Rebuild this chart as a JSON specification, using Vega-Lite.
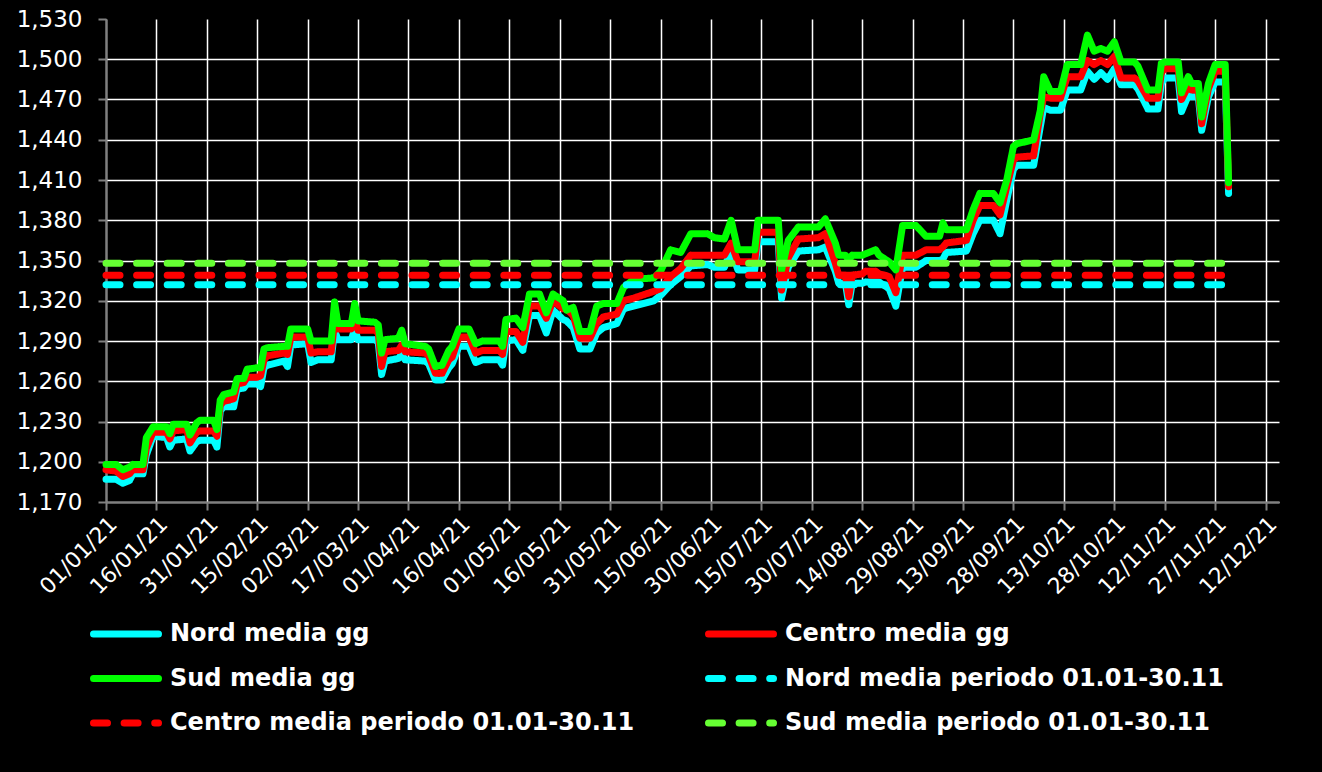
{
  "$schema": "https://vega.github.io/schema/vega-lite/v6.json",
  "width": 1173,
  "height": 483,
  "autosize": {"type": "none"},
  "padding": {"left": 106, "top": 19, "right": 43, "bottom": 270},
  "background": "#000000",
  "config": {
    "view": {"stroke": null},
    "font": "DejaVu Sans",
    "axis": {
      "domainColor": "#808080",
      "domainWidth": 2,
      "tickColor": "#808080",
      "tickWidth": 2,
      "tickSize": 8,
      "labelColor": "#ffffff",
      "labelFont": "DejaVu Sans",
      "gridColor": "#ffffff",
      "gridWidth": 1.5,
      "title": null
    }
  },
  "datasets": {
    "daily": [
      {"d":"2021-01-01","n":1187,"c":1194,"s":1198},
      {"d":"2021-01-04","n":1187,"c":1193,"s":1198},
      {"d":"2021-01-06","n":1184,"c":1189,"s":1194},
      {"d":"2021-01-08","n":1186,"c":1191,"s":1196},
      {"d":"2021-01-09","n":1191,"c":1194,"s":1198},
      {"d":"2021-01-12","n":1191,"c":1194,"s":1198},
      {"d":"2021-01-13","n":1205,"c":1210,"s":1218},
      {"d":"2021-01-15","n":1219,"c":1222,"s":1226},
      {"d":"2021-01-19","n":1218,"c":1222,"s":1226},
      {"d":"2021-01-20","n":1211,"c":1217,"s":1221},
      {"d":"2021-01-21","n":1216,"c":1223,"s":1228},
      {"d":"2021-01-25","n":1217,"c":1224,"s":1228},
      {"d":"2021-01-26","n":1208,"c":1214,"s":1220},
      {"d":"2021-01-28","n":1215,"c":1222,"s":1229},
      {"d":"2021-01-29","n":1216,"c":1223,"s":1231},
      {"d":"2021-02-02","n":1216,"c":1223,"s":1231},
      {"d":"2021-02-03","n":1211,"c":1219,"s":1224},
      {"d":"2021-02-04","n":1238,"c":1242,"s":1246},
      {"d":"2021-02-05","n":1241,"c":1245,"s":1250},
      {"d":"2021-02-08","n":1241,"c":1247,"s":1252},
      {"d":"2021-02-09","n":1254,"c":1258,"s":1262},
      {"d":"2021-02-11","n":1255,"c":1259,"s":1262},
      {"d":"2021-02-12","n":1258,"c":1263,"s":1269},
      {"d":"2021-02-15","n":1258,"c":1263,"s":1270},
      {"d":"2021-02-16","n":1256,"c":1264,"s":1270},
      {"d":"2021-02-17","n":1270,"c":1276,"s":1284},
      {"d":"2021-02-18","n":1272,"c":1279,"s":1285},
      {"d":"2021-02-23","n":1275,"c":1281,"s":1286},
      {"d":"2021-02-24","n":1271,"c":1280,"s":1286},
      {"d":"2021-02-25","n":1287,"c":1293,"s":1299},
      {"d":"2021-03-02","n":1288,"c":1293,"s":1299},
      {"d":"2021-03-03","n":1274,"c":1281,"s":1290},
      {"d":"2021-03-05","n":1276,"c":1282,"s":1290},
      {"d":"2021-03-09","n":1276,"c":1282,"s":1290},
      {"d":"2021-03-10","n":1298,"c":1304,"s":1319},
      {"d":"2021-03-11","n":1291,"c":1299,"s":1303},
      {"d":"2021-03-15","n":1291,"c":1299,"s":1303},
      {"d":"2021-03-16","n":1299,"c":1306,"s":1318},
      {"d":"2021-03-17","n":1291,"c":1298,"s":1305},
      {"d":"2021-03-22","n":1291,"c":1298,"s":1304},
      {"d":"2021-03-23","n":1289,"c":1296,"s":1302},
      {"d":"2021-03-24","n":1265,"c":1271,"s":1281},
      {"d":"2021-03-25","n":1275,"c":1282,"s":1291},
      {"d":"2021-03-29","n":1277,"c":1283,"s":1292},
      {"d":"2021-03-30","n":1280,"c":1287,"s":1298},
      {"d":"2021-03-31","n":1276,"c":1282,"s":1288},
      {"d":"2021-04-06","n":1275,"c":1281,"s":1286},
      {"d":"2021-04-07","n":1273,"c":1279,"s":1284},
      {"d":"2021-04-09","n":1261,"c":1266,"s":1271},
      {"d":"2021-04-11","n":1261,"c":1266,"s":1272},
      {"d":"2021-04-13","n":1270,"c":1276,"s":1283},
      {"d":"2021-04-14","n":1273,"c":1278,"s":1286},
      {"d":"2021-04-16","n":1286,"c":1293,"s":1299},
      {"d":"2021-04-19","n":1286,"c":1293,"s":1299},
      {"d":"2021-04-21","n":1274,"c":1281,"s":1288},
      {"d":"2021-04-23","n":1276,"c":1283,"s":1290},
      {"d":"2021-04-28","n":1276,"c":1283,"s":1290},
      {"d":"2021-04-29","n":1272,"c":1280,"s":1286},
      {"d":"2021-04-30","n":1290,"c":1297,"s":1306},
      {"d":"2021-05-03","n":1291,"c":1297,"s":1307},
      {"d":"2021-05-05","n":1283,"c":1289,"s":1300},
      {"d":"2021-05-07","n":1309,"c":1316,"s":1325},
      {"d":"2021-05-10","n":1309,"c":1316,"s":1325},
      {"d":"2021-05-12","n":1296,"c":1307,"s":1311},
      {"d":"2021-05-14","n":1313,"c":1320,"s":1325},
      {"d":"2021-05-17","n":1306,"c":1314,"s":1320},
      {"d":"2021-05-18","n":1305,"c":1314,"s":1313},
      {"d":"2021-05-20","n":1300,"c":1309,"s":1315},
      {"d":"2021-05-22","n":1284,"c":1292,"s":1297},
      {"d":"2021-05-25","n":1284,"c":1292,"s":1297},
      {"d":"2021-05-27","n":1296,"c":1303,"s":1316},
      {"d":"2021-05-29","n":1300,"c":1308,"s":1318},
      {"d":"2021-06-02","n":1303,"c":1310,"s":1318},
      {"d":"2021-06-04","n":1314,"c":1320,"s":1330},
      {"d":"2021-06-07","n":1316,"c":1322,"s":1336},
      {"d":"2021-06-13","n":1320,"c":1327,"s":1337},
      {"d":"2021-06-15","n":1324,"c":1329,"s":1342},
      {"d":"2021-06-18","n":1332,"c":1338,"s":1358},
      {"d":"2021-06-21","n":1338,"c":1344,"s":1356},
      {"d":"2021-06-24","n":1346,"c":1354,"s":1370},
      {"d":"2021-06-29","n":1347,"c":1354,"s":1370},
      {"d":"2021-07-01","n":1345,"c":1354,"s":1367},
      {"d":"2021-07-04","n":1345,"c":1354,"s":1366},
      {"d":"2021-07-06","n":1358,"c":1363,"s":1380},
      {"d":"2021-07-08","n":1343,"c":1349,"s":1358},
      {"d":"2021-07-13","n":1343,"c":1349,"s":1358},
      {"d":"2021-07-14","n":1364,"c":1371,"s":1380},
      {"d":"2021-07-20","n":1364,"c":1371,"s":1380},
      {"d":"2021-07-21","n":1322,"c":1328,"s":1343},
      {"d":"2021-07-23","n":1345,"c":1352,"s":1365},
      {"d":"2021-07-26","n":1357,"c":1366,"s":1375},
      {"d":"2021-08-01","n":1358,"c":1367,"s":1375},
      {"d":"2021-08-03","n":1360,"c":1370,"s":1381},
      {"d":"2021-08-06","n":1342,"c":1348,"s":1363},
      {"d":"2021-08-07","n":1333,"c":1339,"s":1354},
      {"d":"2021-08-09","n":1333,"c":1339,"s":1354},
      {"d":"2021-08-10","n":1317,"c":1323,"s":1350},
      {"d":"2021-08-11","n":1333,"c":1339,"s":1354},
      {"d":"2021-08-14","n":1333,"c":1340,"s":1354},
      {"d":"2021-08-15","n":1334,"c":1342,"s":1355},
      {"d":"2021-08-18","n":1334,"c":1342,"s":1358},
      {"d":"2021-08-19","n":1334,"c":1340,"s":1354},
      {"d":"2021-08-22","n":1329,"c":1338,"s":1349},
      {"d":"2021-08-24","n":1316,"c":1326,"s":1343},
      {"d":"2021-08-26","n":1345,"c":1354,"s":1376},
      {"d":"2021-08-30","n":1345,"c":1354,"s":1376},
      {"d":"2021-09-02","n":1350,"c":1358,"s":1368},
      {"d":"2021-09-06","n":1350,"c":1358,"s":1368},
      {"d":"2021-09-07","n":1351,"c":1360,"s":1378},
      {"d":"2021-09-08","n":1356,"c":1363,"s":1373},
      {"d":"2021-09-14","n":1357,"c":1365,"s":1373},
      {"d":"2021-09-16","n":1370,"c":1380,"s":1388},
      {"d":"2021-09-18","n":1380,"c":1391,"s":1400},
      {"d":"2021-09-22","n":1380,"c":1391,"s":1400},
      {"d":"2021-09-24","n":1370,"c":1384,"s":1393},
      {"d":"2021-09-26","n":1395,"c":1405,"s":1410},
      {"d":"2021-09-28","n":1418,"c":1425,"s":1435},
      {"d":"2021-09-29","n":1421,"c":1427,"s":1437},
      {"d":"2021-10-04","n":1421,"c":1428,"s":1440},
      {"d":"2021-10-06","n":1450,"c":1460,"s":1462},
      {"d":"2021-10-07","n":1464,"c":1472,"s":1487},
      {"d":"2021-10-09","n":1462,"c":1471,"s":1476},
      {"d":"2021-10-12","n":1462,"c":1471,"s":1476},
      {"d":"2021-10-14","n":1477,"c":1487,"s":1496},
      {"d":"2021-10-18","n":1477,"c":1487,"s":1496},
      {"d":"2021-10-20","n":1491,"c":1499,"s":1518},
      {"d":"2021-10-22","n":1485,"c":1496,"s":1506},
      {"d":"2021-10-24","n":1490,"c":1499,"s":1508},
      {"d":"2021-10-26","n":1485,"c":1496,"s":1506},
      {"d":"2021-10-28","n":1493,"c":1502,"s":1513},
      {"d":"2021-10-30","n":1481,"c":1486,"s":1498},
      {"d":"2021-11-03","n":1481,"c":1486,"s":1498},
      {"d":"2021-11-04","n":1478,"c":1484,"s":1495},
      {"d":"2021-11-07","n":1463,"c":1471,"s":1477},
      {"d":"2021-11-10","n":1463,"c":1471,"s":1477},
      {"d":"2021-11-11","n":1482,"c":1490,"s":1497},
      {"d":"2021-11-12","n":1486,"c":1493,"s":1498},
      {"d":"2021-11-16","n":1486,"c":1493,"s":1498},
      {"d":"2021-11-17","n":1461,"c":1470,"s":1475},
      {"d":"2021-11-19","n":1473,"c":1480,"s":1487},
      {"d":"2021-11-20","n":1472,"c":1477,"s":1482},
      {"d":"2021-11-22","n":1472,"c":1477,"s":1482},
      {"d":"2021-11-23","n":1447,"c":1452,"s":1457},
      {"d":"2021-11-25","n":1472,"c":1478,"s":1482},
      {"d":"2021-11-27","n":1483,"c":1491,"s":1496},
      {"d":"2021-11-30","n":1483,"c":1491,"s":1496},
      {"d":"2021-12-01","n":1400,"c":1405,"s":1408}
    ],
    "avg": [
      {"k":"na","v":1332,"d":"2021-01-01","e":"2021-12-01"},
      {"k":"ca","v":1339,"d":"2021-01-01","e":"2021-12-01"},
      {"k":"sa","v":1348,"d":"2021-01-01","e":"2021-12-01"}
    ]
  },
  "encoding": {
    "x": {
      "field": "d",
      "type": "temporal",
      "scale": {"type": "utc", "domain": [{"year": 2021, "month": 1, "date": 1, "utc": true}, {"year": 2021, "month": 12, "date": 16, "utc": true}]},
      "axis": {
        "format": "%d/%m/%y",
        "labelAngle": -45,
        "labelFontSize": 22,
        "labelPadding": 3,
        "labelOverlap": false,
        "values": [
          {"year": 2021, "month": 1, "date": 1, "utc": true},
          {"year": 2021, "month": 1, "date": 16, "utc": true},
          {"year": 2021, "month": 1, "date": 31, "utc": true},
          {"year": 2021, "month": 2, "date": 15, "utc": true},
          {"year": 2021, "month": 3, "date": 2, "utc": true},
          {"year": 2021, "month": 3, "date": 17, "utc": true},
          {"year": 2021, "month": 4, "date": 1, "utc": true},
          {"year": 2021, "month": 4, "date": 16, "utc": true},
          {"year": 2021, "month": 5, "date": 1, "utc": true},
          {"year": 2021, "month": 5, "date": 16, "utc": true},
          {"year": 2021, "month": 5, "date": 31, "utc": true},
          {"year": 2021, "month": 6, "date": 15, "utc": true},
          {"year": 2021, "month": 6, "date": 30, "utc": true},
          {"year": 2021, "month": 7, "date": 15, "utc": true},
          {"year": 2021, "month": 7, "date": 30, "utc": true},
          {"year": 2021, "month": 8, "date": 14, "utc": true},
          {"year": 2021, "month": 8, "date": 29, "utc": true},
          {"year": 2021, "month": 9, "date": 13, "utc": true},
          {"year": 2021, "month": 9, "date": 28, "utc": true},
          {"year": 2021, "month": 10, "date": 13, "utc": true},
          {"year": 2021, "month": 10, "date": 28, "utc": true},
          {"year": 2021, "month": 11, "date": 12, "utc": true},
          {"year": 2021, "month": 11, "date": 27, "utc": true},
          {"year": 2021, "month": 12, "date": 12, "utc": true}
        ]
      }
    },
    "y": {
      "field": "v",
      "type": "quantitative",
      "scale": {"domain": [1170, 1530], "zero": false, "nice": false},
      "axis": {
        "values": [1170, 1200, 1230, 1260, 1290, 1320, 1350, 1380, 1410, 1440, 1470, 1500, 1530],
        "format": ",d",
        "labelFontSize": 23,
        "labelPadding": 16,
        "gridOpacity": {"condition": {"test": "datum.value === 1530", "value": 0}, "value": 1}
      }
    },
    "color": {
      "field": "k",
      "type": "nominal",
      "scale": {
        "domain": ["n", "c", "s", "na", "ca", "sa"],
        "range": ["#00FFFF", "#FF0000", "#00FF00", "#00FFFF", "#FF0000", "#66FF33"]
      },
      "legend": {
        "orient": "none", "legendX": -16, "legendY": 600, "columns": 2, "direction": "horizontal",
        "title": null, "symbolType": "stroke", "symbolStrokeWidth": 7, "symbolSize": 4225,
        "labelFontSize": 24, "labelFontWeight": "bold", "labelColor": "#ffffff", "labelFont": "DejaVu Sans",
        "labelOffset": 8, "columnPadding": 70, "rowPadding": 14.5, "clipHeight": 30, "labelLimit": 800, "padding": 0,
        "labelExpr": "{'n':'Nord media gg','c':'Centro media gg','s':'Sud media gg','na':'Nord media periodo 01.01-30.11','ca':'Centro media periodo 01.01-30.11','sa':'Sud media periodo 01.01-30.11'}[datum.label]",
        "encode": {"symbols": {"update": {"strokeCap": {"value": "round"}}}}
      }
    },
    "strokeDash": {
      "field": "k",
      "type": "nominal",
      "scale": {
        "domain": ["n", "c", "s", "na", "ca", "sa"],
        "range": [[1, 0], [1, 0], [1, 0], [14, 16.6], [14, 16.6], [14, 16.6]]
      },
      "legend": {
        "orient": "none", "legendX": -16, "legendY": 600, "columns": 2, "direction": "horizontal",
        "title": null, "symbolType": "stroke", "symbolStrokeWidth": 7, "symbolSize": 4225,
        "labelFontSize": 24, "labelFontWeight": "bold", "labelColor": "#ffffff", "labelFont": "DejaVu Sans",
        "labelOffset": 8, "columnPadding": 70, "rowPadding": 14.5, "clipHeight": 30, "labelLimit": 800, "padding": 0,
        "labelExpr": "{'n':'Nord media gg','c':'Centro media gg','s':'Sud media gg','na':'Nord media periodo 01.01-30.11','ca':'Centro media periodo 01.01-30.11','sa':'Sud media periodo 01.01-30.11'}[datum.label]",
        "encode": {"symbols": {"update": {"strokeCap": {"value": "round"}}}}
      }
    }
  },
  "layer": [
    {
      "data": {"name": "daily"},
      "transform": [{"fold": ["n", "c", "s"], "as": ["k", "v"]}],
      "mark": {"type": "line", "strokeWidth": 7, "strokeJoin": "round", "strokeCap": "round"}
    },
    {
      "data": {"name": "avg"},
      "mark": {"type": "rule", "strokeWidth": 7, "strokeCap": "round"},
      "encoding": {"x2": {"field": "e"}}
    }
  ]
}
